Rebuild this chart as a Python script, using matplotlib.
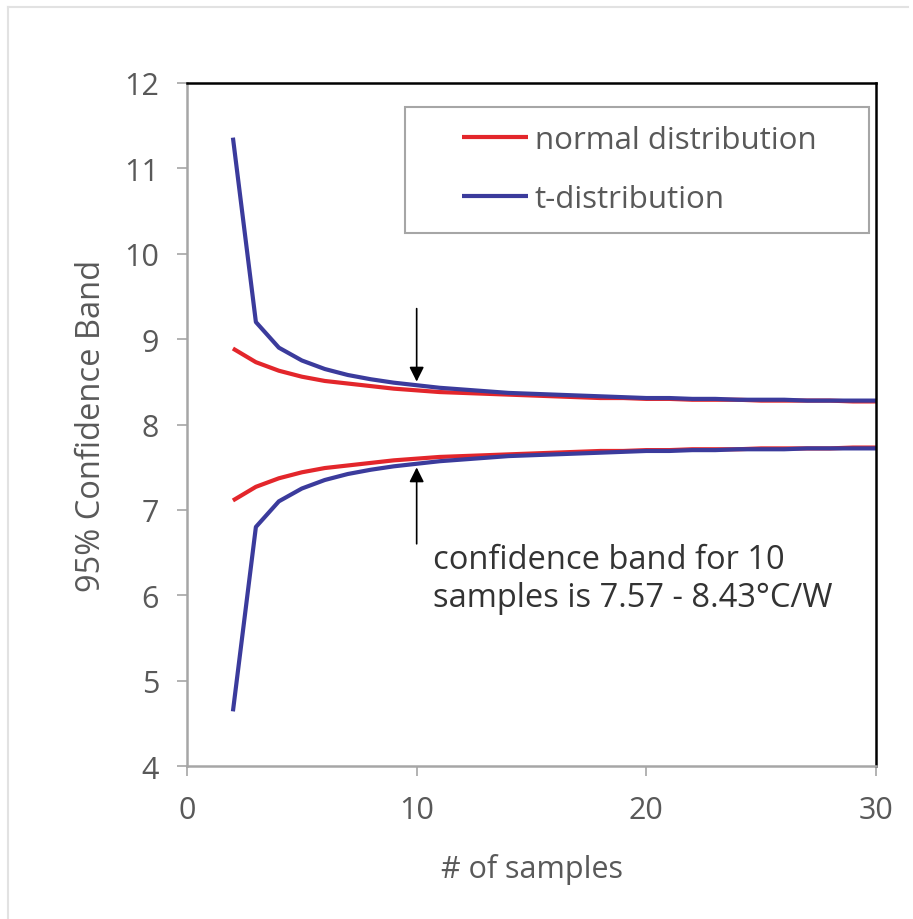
import matplotlib.pyplot as plt
from matplotlib.lines import Line2D
from matplotlib.patches import Rectangle

# sample counts and band limits
n_samples = list(range(2, 31))

normal_upper = [8.89, 8.73, 8.63, 8.56, 8.51, 8.48, 8.45, 8.42, 8.40, 8.38,
                8.37, 8.36, 8.35, 8.34, 8.33, 8.32, 8.31, 8.31, 8.30, 8.30,
                8.29, 8.29, 8.29, 8.28, 8.28, 8.28, 8.28, 8.27, 8.27]
normal_lower = [7.11, 7.27, 7.37, 7.44, 7.49, 7.52, 7.55, 7.58, 7.60, 7.62,
                7.63, 7.64, 7.65, 7.66, 7.67, 7.68, 7.69, 7.69, 7.70, 7.70,
                7.71, 7.71, 7.71, 7.72, 7.72, 7.72, 7.72, 7.73, 7.73]
t_upper = [11.36, 9.20, 8.90, 8.75, 8.65, 8.58, 8.53, 8.49, 8.46, 8.43,
           8.41, 8.39, 8.37, 8.36, 8.35, 8.34, 8.33, 8.32, 8.31, 8.31,
           8.30, 8.30, 8.29, 8.29, 8.29, 8.28, 8.28, 8.28, 8.28]
t_lower = [4.64, 6.80, 7.10, 7.25, 7.35, 7.42, 7.47, 7.51, 7.54, 7.57,
           7.59, 7.61, 7.63, 7.64, 7.65, 7.66, 7.67, 7.68, 7.69, 7.69,
           7.70, 7.70, 7.71, 7.71, 7.71, 7.72, 7.72, 7.72, 7.72]

x_ticks = [0, 10, 20, 30]
y_ticks = [4, 5, 6, 7, 8, 9, 10, 11, 12]

RED = '#E3262B'
BLUE = '#3B3B9C'
GREY_TEXT = '#595959'
GREY_AXIS = '#A6A6A6'
LINE_W = 3.0
FS = 22.5

plt.rcParams['font.family'] = ['Open Sans', 'DejaVu Sans']

fig = plt.figure(figsize=(9.13, 9.20), dpi=100)
ax = fig.add_axes([0.2048, 0.1663, 0.7547, 0.7424])

# outer light frame (left and top edges only)
fig.add_artist(Line2D([0.009, 0.009], [0.0, 0.991], color='#E2E2E2', lw=1.5,
                      transform=fig.transFigure))
fig.add_artist(Line2D([0.009, 0.995], [0.991, 0.991], color='#E2E2E2', lw=1.5,
                      transform=fig.transFigure))

ax.plot(n_samples, normal_upper, color=RED, lw=LINE_W, solid_capstyle='butt',
        label='normal distribution')
ax.plot(n_samples, normal_lower, color=RED, lw=LINE_W, solid_capstyle='butt')
ax.plot(n_samples, t_upper, color=BLUE, lw=LINE_W, solid_capstyle='butt',
        label='t-distribution')
ax.plot(n_samples, t_lower, color=BLUE, lw=LINE_W, solid_capstyle='butt')

ax.set_xlim(0, 30)
ax.set_ylim(4, 12)
ax.set_xticks(x_ticks)
ax.set_yticks(y_ticks)
ax.tick_params(axis='both', direction='out', length=7, width=1.2,
               color=GREY_AXIS, labelcolor=GREY_TEXT, labelsize=22)
ax.tick_params(axis='x', pad=14)
ax.tick_params(axis='y', pad=13)

for side in ['left', 'bottom']:
    ax.spines[side].set_color(GREY_AXIS)
    ax.spines[side].set_linewidth(1.8)
for side in ['top', 'right']:
    ax.spines[side].set_color('black')
    ax.spines[side].set_linewidth(1.8)

ax.set_xlabel('# of samples', fontsize=22, color=GREY_TEXT, labelpad=20)
ax.set_ylabel('95% Confidence Band', fontsize=23.5, color=GREY_TEXT, labelpad=12)

# legend box drawn separately so its padding matches the original
ax.add_patch(Rectangle((0.3164, 0.7804), 0.6734, 0.1845, transform=ax.transAxes,
                       facecolor='white', edgecolor=GREY_AXIS, lw=1.5, zorder=4))
leg = ax.legend(loc='center left', bbox_to_anchor=(0.399, 0.8734), fontsize=FS,
                handlelength=2.11, handletextpad=0.22, labelspacing=0.95,
                borderpad=0, borderaxespad=0, frameon=False,
                labelcolor=GREY_TEXT)
leg.set_zorder(5)

# arrows pointing at the band for 10 samples
arrow_style = dict(arrowstyle='-|>', color='black', lw=1.2, mutation_scale=22)
ax.annotate('', xy=(10, 8.47), xytext=(10, 9.39), arrowprops=arrow_style)
ax.annotate('', xy=(10, 7.53), xytext=(10, 6.57), arrowprops=arrow_style)

ax.text(10.7, 6.2, 'confidence band for 10\nsamples is 7.57 - 8.43\u00b0C/W',
        fontsize=23.5, color='#333333', linespacing=1.2, va='center', ha='left')

fig.savefig('out.png', dpi=100, facecolor='white')
